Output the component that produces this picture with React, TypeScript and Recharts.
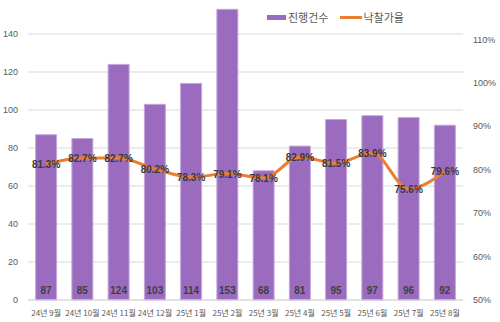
import React from 'react';
import { ComposedChart, Bar, Line, XAxis, YAxis, CartesianGrid, LabelList } from 'recharts';

const months = ['24년 9월', '24년 10월', '24년 11월', '24년 12월', '25년 1월', '25년 2월', '25년 3월', '25년 4월', '25년 5월', '25년 6월', '25년 7월', '25년 8월'];
const counts = [87, 85, 124, 103, 114, 153, 68, 81, 95, 97, 96, 92];
const rates = [81.3, 82.7, 82.7, 80.2, 78.3, 79.1, 78.1, 82.9, 81.5, 83.9, 75.6, 79.6];
const leftTicks = [0, 20, 40, 60, 80, 100, 120, 140];
const rightTicks = [50, 60, 70, 80, 90, 100, 110];

const data = months.map((m, i) => ({ month: m, count: counts[i], rate: rates[i] }));

const PURPLE = '#9a6bbf';
const ORANGE = '#ed7d31';
const TEXT = '#595959';

// legend drawn as an overlay so it doesn't take space from the plot
const LegendBox = () => (
  <div style={{ position: 'absolute', left: 267, top: 9, display: 'flex', alignItems: 'center', fontFamily: '"Noto Sans CJK KR", sans-serif', fontSize: 11, color: TEXT }}>
    <span style={{ display: 'inline-block', width: 19, height: 5, background: PURPLE, marginRight: 2 }} />
    <span style={{ marginRight: 12 }}>진행건수</span>
    <span style={{ display: 'inline-block', width: 22, height: 3, background: ORANGE, marginRight: 1 }} />
    <span>낙찰가율</span>
  </div>
);

const rateLabel = (props: any) => {
  const { x, y, value } = props;
  return (
    <text x={x} y={y} dy={4} textAnchor="middle" fontSize={10} fontWeight={600} fontFamily="'Liberation Sans', Arial, sans-serif" fill="#3a3a3a">
      {value.toFixed(1)}%
    </text>
  );
};

const countLabel = (props: any) => {
  const { x, y, width, height, value } = props;
  return (
    <text x={x + width / 2} y={y + height - 10} dy={4} textAnchor="middle" fontSize={10} fontWeight="bold" fontFamily="'Liberation Sans', Arial, sans-serif" fill="#404040">
      {value}
    </text>
  );
};

export default function App() {
  return (
    <div style={{ position: 'absolute', left: 0, top: 0, width: 500, height: 322, overflow: 'hidden', background: '#fff' }}>
      <div style={{ marginTop: -4 }}>
        <ComposedChart width={500} height={326} data={data} margin={{ top: 0, right: 0, bottom: 0, left: 0 }} barCategoryGap="21%">
          <CartesianGrid yAxisId="left" vertical={false} stroke="#d9d9d9" />
          <XAxis
            dataKey="month"
            height={22}
            tickLine={false}
            axisLine={{ stroke: '#d9d9d9' }}
            interval={0}
            tickMargin={4}
            tick={{ fontSize: 8, fill: TEXT, fontFamily: '"Noto Sans CJK KR", sans-serif' }}
          />
          <YAxis
            yAxisId="left"
            width={28}
            domain={[0, 160]}
            ticks={leftTicks}
            axisLine={false}
            tickLine={false}
            tickMargin={4}
            tick={{ fontSize: 9, fill: TEXT, fontFamily: "'Liberation Sans', Arial, sans-serif" }}
          />
          <YAxis
            yAxisId="right"
            orientation="right"
            width={37}
            domain={[50, 120]}
            ticks={rightTicks}
            axisLine={false}
            tickLine={false}
            tickMargin={4}
            tickFormatter={(v) => `${v}%`}
            tick={{ fontSize: 9, fill: TEXT, fontFamily: "'Liberation Sans', Arial, sans-serif" }}
          />
          <Bar yAxisId="left" dataKey="count" name="진행건수" fill={PURPLE} stroke="#c4a8dc" strokeWidth={1} isAnimationActive={false}>
            <LabelList dataKey="count" content={countLabel} />
          </Bar>
          <Line yAxisId="right" type="monotone" dataKey="rate" name="낙찰가율" stroke={ORANGE} strokeWidth={3} dot={false} isAnimationActive={false}>
            <LabelList dataKey="rate" content={rateLabel} />
          </Line>
        </ComposedChart>
      </div>
      <LegendBox />
    </div>
  );
}
